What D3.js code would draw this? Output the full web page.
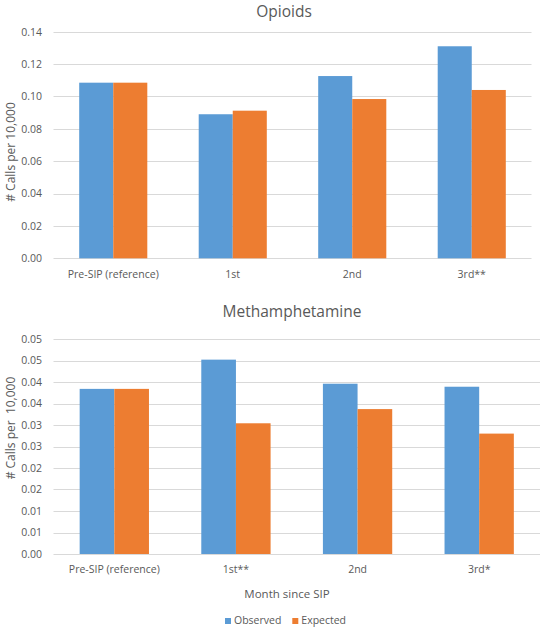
<!DOCTYPE html>
<html><head><meta charset="utf-8">
<script src="https://cdn.jsdelivr.net/npm/d3@7"></script>
<style>
body{margin:0;background:#fff;}
text{font-family:"Open Sans",sans-serif;fill:#595959;}
</style></head><body>
<svg id="c" width="540" height="627"></svg>
<script>
const categoriesOpioids = ["Pre-SIP (reference)", "1st", "2nd", "3rd**"];
const observedOpioids = [0.1085, 0.0890, 0.1126, 0.1310];
const expectedOpioids = [0.1085, 0.0912, 0.0984, 0.1040];
const ticksOpioids = [0, 0.02, 0.04, 0.06, 0.08, 0.10, 0.12, 0.14];
const tickLabelsOpioids = ["0.00","0.02","0.04","0.06","0.08","0.10","0.12","0.14"];

const categoriesMeth = ["Pre-SIP (reference)", "1st**", "2nd", "3rd*"];
const observedMeth = [0.0384, 0.0452, 0.0396, 0.0389];
const expectedMeth = [0.0384, 0.0304, 0.0337, 0.0280];
const ticksMeth = [0, 0.005, 0.01, 0.015, 0.02, 0.025, 0.03, 0.035, 0.04, 0.045, 0.05];
const tickLabelsMeth = ["0.00","0.01","0.01","0.02","0.02","0.03","0.03","0.04","0.04","0.05","0.05"];

const seriesNames = ["Observed", "Expected"];
const colors = ["#5B9BD5", "#ED7D31"];

const svg = d3.select("#c");

function drawPanel(cfg){
  const g = svg.append("g");
  const x = d3.scaleBand().domain(cfg.categories).range([cfg.left, cfg.right]).padding(0);
  const x1 = d3.scaleBand().domain(seriesNames).range([0, x.bandwidth()]).paddingInner(0).paddingOuter(0.755);
  const y = d3.scaleLinear().domain([0, cfg.max]).range([cfg.bottom, cfg.top]);

  g.append("g").selectAll("line").data(cfg.ticks).join("line")
    .attr("x1", cfg.left).attr("x2", cfg.gridRight)
    .attr("y1", d => Math.round(y(d)) + 0.5).attr("y2", d => Math.round(y(d)) + 0.5)
    .attr("stroke", "#D9D9D9").attr("stroke-width", 1);

  g.append("g").selectAll("text").data(cfg.ticks).join("text")
    .attr("x", 42).attr("y", d => y(d) + 3.8)
    .attr("text-anchor", "end").style("font-size", "10.5px")
    .text((d, i) => cfg.tickLabels[i]);

  const data = cfg.categories.map((c, i) => ({c, vals: [cfg.obs[i], cfg.exp[i]]}));
  const grp = g.append("g").selectAll("g").data(data).join("g")
    .attr("transform", d => `translate(${x(d.c)},0)`);
  grp.selectAll("rect").data(d => d.vals.map((v, j) => ({v, s: seriesNames[j], j})))
    .join("rect")
    .attr("x", d => x1(d.s)).attr("width", x1.bandwidth())
    .attr("y", d => y(d.v)).attr("height", d => y(0) - y(d.v))
    .attr("fill", d => colors[d.j]);

  g.append("g").selectAll("text").data(cfg.categories).join("text")
    .attr("x", d => x(d) + x.bandwidth() / 2).attr("y", cfg.xLabelY)
    .attr("text-anchor", "middle").style("font-size", "10.5px")
    .text(d => d);

  g.append("text").attr("x", cfg.titleX).attr("y", cfg.titleY)
    .attr("text-anchor", "middle").style("font-size", "15.5px").text(cfg.title);

  g.append("text").attr("transform", `translate(15,${cfg.yTitleY}) rotate(-90)`)
    .attr("text-anchor", "middle").style("font-size", "12px")
    .attr("xml:space", "preserve").style("white-space", "pre")
    .text(cfg.yTitle);
}

drawPanel({
  categories: categoriesOpioids, obs: observedOpioids, exp: expectedOpioids,
  ticks: ticksOpioids, tickLabels: tickLabelsOpioids, max: 0.14,
  left: 53.5, right: 531.5, gridRight: 531.5, top: 31.7, bottom: 258.3,
  xLabelY: 278, title: "Opioids", titleX: 284, titleY: 16.5,
  yTitle: "# Calls per 10,000", yTitleY: 152
});

drawPanel({
  categories: categoriesMeth, obs: observedMeth, exp: expectedMeth,
  ticks: ticksMeth, tickLabels: tickLabelsMeth, max: 0.05,
  left: 53.5, right: 540, gridRight: 540, top: 339, bottom: 554,
  xLabelY: 573, title: "Methamphetamine", titleX: 292, titleY: 317,
  yTitle: "# Calls per  10,000", yTitleY: 428
});

svg.append("text").attr("x", 287).attr("y", 598).attr("text-anchor", "middle")
  .style("font-size", "11.5px").text("Month since SIP");

const leg = svg.append("g");
const legX = [225, 292.3];
seriesNames.forEach((s, i) => {
  leg.append("rect").attr("x", legX[i]).attr("y", 618).attr("width", 6).attr("height", 6).attr("fill", colors[i]);
  leg.append("text").attr("x", legX[i] + 9).attr("y", 623.5).style("font-size", "10.5px").text(s);
});
</script>
</body></html>
